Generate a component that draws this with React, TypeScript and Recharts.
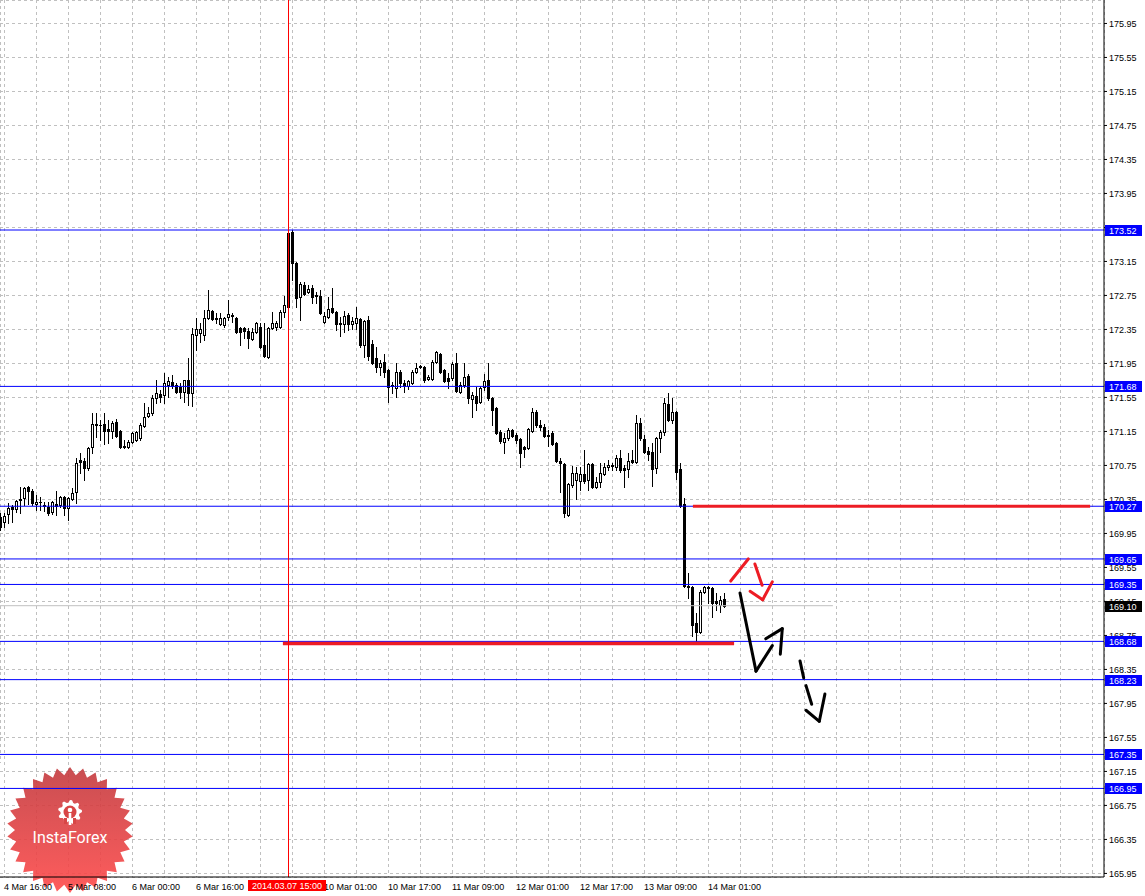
import React from "react";
import {
  ComposedChart,
  Bar,
  XAxis,
  YAxis,
  CartesianGrid,
  ReferenceLine,
  Customized,
} from "recharts";

// ---- H1 candles (bar index 0 = 4 Mar 15:00) ----
const opens = [
  170.14, 170.08, 170.18, 170.26, 170.24, 170.36, 170.37, 170.5, 170.45, 170.3,
  170.32, 170.28, 170.26, 170.2, 170.3, 170.28, 170.38, 170.25, 170.36, 170.44,
  170.81, 170.8, 170.72, 170.97, 171.24, 171.22, 171.24, 171.18, 171.16, 171.26,
  171.16, 170.97, 170.97, 171.03, 171.05, 171.07, 171.21, 171.33, 171.37, 171.54,
  171.59, 171.58, 171.7, 171.73, 171.7, 171.67, 171.61, 171.76, 171.6, 172.28,
  172.31, 172.28, 172.48, 172.57, 172.48, 172.41, 172.4, 172.5, 172.52, 172.48,
  172.37, 172.37, 172.33, 172.24, 172.32, 172.38, 172.17, 172.03, 172.37, 172.38,
  172.38, 172.56, 172.61, 173.5, 173.13, 172.73, 172.87, 172.79, 172.84, 172.75,
  172.74, 172.44, 172.5, 172.6, 172.56, 172.41, 172.41, 172.52, 172.41, 172.43,
  172.47, 172.17, 172.46, 172.18, 172.01, 171.91, 171.97, 171.87, 171.68, 171.66,
  171.85, 171.72, 171.68, 171.72, 171.85, 171.92, 171.91, 171.77, 171.77, 171.97,
  172.06, 171.87, 171.78, 171.78, 171.95, 171.61, 171.7, 171.8, 171.53, 171.57,
  171.5, 171.67, 171.76, 171.54, 171.43, 171.14, 171.03, 171.07, 171.17, 171.11,
  171.06, 170.97, 170.96, 171.16, 171.38, 171.23, 171.2, 171.11, 171.13, 171.01,
  170.8, 170.77, 170.17, 170.52, 170.58, 170.57, 170.65, 170.58, 170.77, 170.5,
  170.56, 170.65, 170.73, 170.75, 170.73, 170.84, 170.72, 170.71, 170.81, 170.79,
  171.25, 171.06, 170.92, 170.91, 170.72, 171.07, 171.14, 171.47, 171.28, 171.38,
  170.71, 170.3, 169.33, 169.32, 168.9, 168.79, 169.26, 169.32, 169.31, 169.15,
  169.11, 169.18,
];
const highs = [
  170.19, 170.19, 170.31, 170.28, 170.34, 170.5, 170.5, 170.51, 170.47, 170.4,
  170.38, 170.32, 170.32, 170.33, 170.45, 170.39, 170.39, 170.38, 170.48, 170.84,
  170.9, 170.84, 170.97, 171.37, 171.37, 171.28, 171.37, 171.28, 171.27, 171.3,
  171.17, 171.05, 171.05, 171.14, 171.16, 171.25, 171.48, 171.44, 171.58, 171.76,
  171.64, 171.84, 171.79, 171.81, 171.72, 171.72, 171.76, 172.01, 172.37, 172.48,
  172.43, 172.58, 172.81, 172.58, 172.54, 172.54, 172.5, 172.7, 172.54, 172.5,
  172.38, 172.38, 172.37, 172.37, 172.44, 172.43, 172.43, 172.38, 172.56, 172.45,
  172.58, 172.74, 173.51, 173.52, 173.14, 172.91, 172.91, 172.87, 172.87, 172.79,
  172.81, 172.56, 172.73, 172.84, 172.57, 172.5, 172.57, 172.54, 172.5, 172.61,
  172.48, 172.46, 172.51, 172.23, 172.14, 171.99, 172.06, 171.88, 171.73, 171.95,
  171.87, 171.76, 171.76, 171.87, 171.95, 171.93, 171.92, 171.81, 171.99, 172.1,
  172.07, 171.88, 171.84, 171.97, 172.07, 171.73, 171.95, 171.83, 171.61, 171.67,
  171.68, 171.83, 171.95, 171.56, 171.44, 171.17, 171.13, 171.19, 171.18, 171.13,
  171.07, 170.98, 171.19, 171.43, 171.4, 171.28, 171.24, 171.17, 171.16, 171.02,
  170.84, 170.78, 170.54, 170.74, 170.73, 170.73, 170.93, 170.78, 170.78, 170.61,
  170.78, 170.78, 170.81, 170.78, 170.87, 170.93, 170.76, 170.9, 170.93, 171.34,
  171.31, 171.11, 170.97, 171.01, 171.08, 171.17, 171.54, 171.6, 171.54, 171.39,
  170.78, 170.37, 169.48, 169.33, 169.01, 169.28, 169.33, 169.33, 169.32, 169.25,
  169.21, 169.25,
];
const lows = [
  169.99, 170.03, 170.07, 170.08, 170.2, 170.19, 170.28, 170.3, 170.28, 170.23,
  170.23, 170.21, 170.17, 170.18, 170.17, 170.26, 170.17, 170.11, 170.34, 170.31,
  170.66, 170.58, 170.7, 170.9, 171.08, 171.05, 171.0, 171.01, 171.07, 171.08,
  170.96, 170.96, 170.96, 171.01, 171.04, 171.05, 171.2, 171.32, 171.34, 171.48,
  171.5, 171.48, 171.56, 171.66, 171.6, 171.54, 171.5, 171.46, 171.45, 172.11,
  172.2, 172.23, 172.47, 172.46, 172.43, 172.4, 172.38, 172.46, 172.44, 172.31,
  172.17, 172.25, 172.13, 172.23, 172.31, 172.13, 172.03, 172.01, 172.36, 172.34,
  172.37, 172.5, 172.58, 172.93, 172.61, 172.46, 172.76, 172.78, 172.66, 172.66,
  172.53, 172.43, 172.48, 172.54, 172.34, 172.27, 172.32, 172.34, 172.36, 172.36,
  172.14, 172.03, 171.99, 171.94, 171.85, 171.81, 171.79, 171.5, 171.6, 171.56,
  171.67, 171.61, 171.65, 171.71, 171.84, 171.9, 171.73, 171.76, 171.76, 171.95,
  171.84, 171.73, 171.66, 171.76, 171.61, 171.6, 171.67, 171.48, 171.32, 171.4,
  171.48, 171.64, 171.52, 171.23, 171.12, 171.01, 170.9, 171.05, 171.08, 171.01,
  170.73, 170.85, 170.94, 171.14, 171.2, 171.17, 171.08, 170.98, 170.99, 170.79,
  170.44, 170.14, 170.16, 170.5, 170.36, 170.46, 170.54, 170.46, 170.48, 170.48,
  170.5, 170.64, 170.7, 170.7, 170.7, 170.67, 170.5, 170.61, 170.78, 170.78,
  171.05, 170.9, 170.81, 170.51, 170.66, 170.91, 171.11, 171.27, 171.25, 170.59,
  170.26, 169.32, 169.19, 168.74, 168.68, 168.78, 169.25, 169.13, 168.97, 169.05,
  169.03, 169.08,
];
const closes = [
  170.03, 170.16, 170.25, 170.24, 170.33, 170.34, 170.48, 170.45, 170.31, 170.32,
  170.32, 170.27, 170.19, 170.32, 170.27, 170.38, 170.25, 170.37, 170.43, 170.78,
  170.79, 170.72, 170.96, 171.24, 171.22, 171.23, 171.16, 171.16, 171.25, 171.1,
  170.97, 170.98, 171.03, 171.13, 171.14, 171.23, 171.32, 171.37, 171.54, 171.6,
  171.56, 171.72, 171.74, 171.68, 171.61, 171.61, 171.76, 171.6, 172.3, 172.36,
  172.36, 172.48, 172.58, 172.47, 172.47, 172.48, 172.48, 172.53, 172.51, 172.32,
  172.32, 172.33, 172.25, 172.32, 172.43, 172.14, 172.04, 172.37, 172.43, 172.43,
  172.56, 172.64, 173.48, 173.13, 172.72, 172.89, 172.77, 172.83, 172.73, 172.74,
  172.54, 172.51, 172.59, 172.56, 172.41, 172.42, 172.51, 172.41, 172.45, 172.48,
  172.17, 172.45, 172.04, 171.95, 171.91, 171.95, 171.85, 171.67, 171.7, 171.85,
  171.72, 171.68, 171.74, 171.85, 171.9, 171.91, 171.76, 171.79, 171.97, 172.08,
  171.85, 171.74, 171.74, 171.94, 171.63, 171.7, 171.79, 171.54, 171.58, 171.48,
  171.66, 171.74, 171.54, 171.4, 171.13, 171.04, 171.07, 171.17, 171.1, 171.05,
  170.9, 170.94, 171.18, 171.38, 171.23, 171.2, 171.1, 171.1, 171.0, 170.8,
  170.78, 170.19, 170.53, 170.66, 170.66, 170.65, 170.57, 170.77, 170.5, 170.56,
  170.66, 170.73, 170.76, 170.74, 170.84, 170.7, 170.7, 170.8, 170.79, 171.25,
  171.07, 170.91, 170.88, 170.71, 171.07, 171.14, 171.48, 171.28, 171.38, 170.67,
  170.27, 169.33, 169.32, 168.87, 168.79, 169.26, 169.32, 169.31, 169.13, 169.13,
  169.17, 169.1,
];

// ---- axis ticks / labels ----
const xLabelBars = [1, 17, 33, 49, 81, 97, 113, 129, 145, 161, 177];
const xLabels = [
  "4 Mar 16:00", "5 Mar 08:00", "6 Mar 00:00", "6 Mar 16:00",
  "10 Mar 01:00", "10 Mar 17:00", "11 Mar 09:00", "12 Mar 01:00",
  "12 Mar 17:00", "13 Mar 09:00", "14 Mar 01:00",
];
const xGridBars = [
  1, 9, 17, 25, 33, 41, 49, 57, 65, 73, 81, 89, 97, 105, 113, 121, 129, 137,
  145, 153, 161, 169, 177, 185, 193, 201, 209, 217, 225, 233, 241, 249, 257,
  265, 273,
];
const yTicks = [
  175.95, 175.55, 175.15, 174.75, 174.35, 173.95, 173.55, 173.15, 172.75,
  172.35, 171.95, 171.55, 171.15, 170.75, 170.35, 169.95, 169.55, 169.15,
  168.75, 168.35, 167.95, 167.55, 167.15, 166.75, 166.35, 165.95,
];
// tick labels fully covered by a price tag in the reference
const hiddenYTickLabels = [173.55];

// ---- annotations (data units: bar index, price) ----
const levelLines = [173.52, 171.68, 170.27, 169.65, 169.35, 168.68, 168.23, 167.35, 166.95];
const bidPrice = 169.1;
const bidLineEnd = 208.1;
const markerBar = 72;
const markerLabel = "2014.03.07 15:00";
const upperRedLevel = { price: 170.27, from: 173.1, to: 272.4 };
const lowerRedLevel = { price: 168.655, from: 70.6, to: 183.4 };
const redArrow = [
  [[182.55, 169.39], [186.95, 169.65]],
  [[188.6, 169.59], [190.4, 169.34]],
  [[187.4, 169.27], [190.55, 169.17]],
  [[190.55, 169.17], [192.95, 169.38]],
];
const blackArrow = [
  [[184.875, 169.25], [188.875, 168.33]],
  [[188.875, 168.33], [192.95, 168.63]],
  [[191.3, 168.71], [195.45, 168.83]],
  [[195.45, 168.83], [194.95, 168.53]],
  [[199.875, 168.45], [200.8, 168.25]],
  [[201.375, 168.16], [202.8, 167.94]],
  [[201.375, 167.87], [204.7, 167.74]],
  [[204.7, 167.74], [206.1, 168.06]],
];

const candles = opens.map((o, i) => ({
  bar: i,
  open: o,
  high: highs[i],
  low: lows[i],
  close: closes[i],
}));

const Y_MIN = 165.908;
const Y_MAX = 176.226;
const X_MIN = -0.125;
const X_MAX = 275.875;
const FONT = "'Liberation Sans', Arial, sans-serif";

const Candle = (props: any) => {
  const { x, y, width, height } = props;
  const d = props.payload ?? props;
  if (x == null || y == null || d == null) return null;
  const { open, close, high, low } = d;
  const t = Math.min(y, y + height);
  const b = Math.max(y, y + height);
  const k = (b - t) / (high - low || 1);
  const py = (v: number) => Math.round(t + (high - v) * k);
  const cx = Math.floor(x + width / 2) + 0.5;
  const hi = py(high);
  const lo = py(low);
  const bt = py(Math.max(open, close));
  const bb = py(Math.min(open, close));
  const up = close >= open;
  return (
    <g>
      <line x1={cx} x2={cx} y1={hi} y2={lo + 1} stroke="#000" strokeWidth={1} />
      {up ? (
        bb > bt ? (
          <rect x={cx - 1} y={bt + 0.5} width={2} height={bb - bt} fill="#fff" stroke="#000" strokeWidth={1} />
        ) : (
          <line x1={cx - 1.5} x2={cx + 1.5} y1={bt + 0.5} y2={bt + 0.5} stroke="#000" strokeWidth={1} />
        )
      ) : (
        <rect x={cx - 1.5} y={bt} width={3} height={bb - bt + 1} fill="#000" />
      )}
    </g>
  );
};

const PriceTag = (props: any) => {
  const { viewBox, text, bg } = props;
  if (!viewBox) return null;
  const left = 1105;
  const cy = Math.round(viewBox.y);
  return (
    <g>
      <rect x={left} y={cy - 5} width={37} height={11} fill={bg} />
      <text x={left + 4} y={cy + 4} fill="#fff" fontSize={9} fontFamily={FONT}>
        {text}
      </text>
    </g>
  );
};

const TimeTag = (props: any) => {
  const { viewBox, text } = props;
  if (!viewBox) return null;
  const lx = Math.round(viewBox.x);
  const bottom = viewBox.y + viewBox.height;
  return (
    <g>
      <rect x={lx - 41} y={bottom + 3} width={78} height={11} fill="#ff0000" />
      <text x={lx - 37} y={bottom + 12} fill="#fff" fontSize={9} fontFamily={FONT}>
        {text}
      </text>
    </g>
  );
};

const XTick = (props: any) => {
  const { x, payload } = props;
  const idx = xLabelBars.indexOf(payload.value);
  if (idx < 0) return null;
  return (
    <text x={x - 0.5} y={890} fontSize={9} fontFamily={FONT} fill="#000" textAnchor="start">
      {xLabels[idx]}
    </text>
  );
};

const YTick = (props: any) => {
  const { x, y, payload } = props;
  if (hiddenYTickLabels.includes(payload.value)) return null;
  return (
    <text x={x} y={y} dy="0.355em" fontSize={9} fontFamily={FONT} fill="#000" textAnchor="start">
      {Number(payload.value).toFixed(2)}
    </text>
  );
};

const Logo = () => {
  const cx = 70;
  const cy = 830;
  const pts: string[] = [];
  const n = 30;
  for (let k = 0; k < 2 * n; k++) {
    const a = (Math.PI * k) / n - Math.PI / 2;
    const r = k % 2 === 0 ? 63 : 55;
    pts.push(`${(cx + r * Math.cos(a)).toFixed(2)},${(cy + r * Math.sin(a)).toFixed(2)}`);
  }
  const gx = 70;
  const gy = 812;
  const gear: string[] = [];
  const teeth = 9;
  for (let k = 0; k < teeth * 4; k++) {
    const a = (2 * Math.PI * k) / (teeth * 4) - Math.PI / 2;
    const r = k % 4 < 2 ? 12 : 9.5;
    gear.push(`${(gx + r * Math.cos(a)).toFixed(2)},${(gy + r * Math.sin(a)).toFixed(2)}`);
  }
  return (
    <g>
      <defs>
        <linearGradient id="logoGrad" x1="0" y1="0" x2="0" y2="1">
          <stop offset="0%" stopColor="#c23a3e" />
          <stop offset="100%" stopColor="#ff4a4a" />
        </linearGradient>
      </defs>
      <polygon points={pts.join(" ")} fill="url(#logoGrad)" opacity={0.9} />
      <polygon points={gear.join(" ")} fill="#fff" />
      <circle cx={gx} cy={gy} r={6.5} fill="#d84646" />
      <circle cx={gx} cy={gy - 2} r={2.3} fill="#fff" />
      <rect x={gx - 1.3} y={gy + 1} width={2.6} height={12} fill="#fff" />
      <rect x={gx - 6} y={gy + 6} width={3} height={6} fill="#d84646" />
      <rect x={gx + 3} y={gy + 6} width={3} height={6} fill="#d84646" />
      <text x={cx} y={843} textAnchor="middle" fontFamily="Roboto, 'Open Sans', sans-serif" fontSize={16} fill="#fff">
        InstaForex
      </text>
    </g>
  );
};

export default function App() {
  return (
    <div style={{ position: "absolute", left: 0, top: 0, width: 1145, height: 896, background: "#fff" }}>
      <ComposedChart
        width={1145}
        height={896}
        data={candles}
        margin={{ top: 0, right: 0, bottom: 0, left: 0 }}
      >
        <CartesianGrid stroke="#c0c0c0" strokeDasharray="3 3" shapeRendering="crispEdges" />
        <XAxis
          dataKey="bar"
          type="number"
          domain={[X_MIN, X_MAX]}
          allowDataOverflow
          ticks={xGridBars}
          interval={0}
          height={19}
          tickLine={false}
          tickSize={0}
          axisLine={{ stroke: "#000" }}
          tick={<XTick />}
        />
        <YAxis
          orientation="right"
          type="number"
          domain={[Y_MIN, Y_MAX]}
          allowDataOverflow
          ticks={yTicks}
          interval={0}
          width={41}
          tickSize={3}
          tickMargin={2}
          tickLine={{ stroke: "#000" }}
          axisLine={{ stroke: "#000" }}
          tick={<YTick />}
        />
        <Bar
          dataKey={(d: any) => [d.low, d.high]}
          barSize={3}
          isAnimationActive={false}
          shape={(p: any) => <Candle {...p} />}
        />
        <ReferenceLine
          segment={[
            { x: X_MIN, y: bidPrice },
            { x: bidLineEnd, y: bidPrice },
          ]}
          stroke="#c0c0c0"
          strokeWidth={1}
        />
        {levelLines.map((lv) => (
          <ReferenceLine key={lv} y={lv} stroke="#0000ff" strokeWidth={1} />
        ))}
        <ReferenceLine
          segment={[
            { x: upperRedLevel.from, y: upperRedLevel.price },
            { x: upperRedLevel.to, y: upperRedLevel.price },
          ]}
          stroke="#ed1c24"
          strokeWidth={3}
        />
        <ReferenceLine
          segment={[
            { x: lowerRedLevel.from, y: lowerRedLevel.price },
            { x: lowerRedLevel.to, y: lowerRedLevel.price },
          ]}
          stroke="#ed1c24"
          strokeWidth={3.5}
        />
        <ReferenceLine x={markerBar} stroke="#ff0000" strokeWidth={1} />
        {redArrow.map((s, i) => (
          <ReferenceLine
            key={"r" + i}
            segment={[{ x: s[0][0], y: s[0][1] }, { x: s[1][0], y: s[1][1] }]}
            stroke="#ed1c24"
            strokeWidth={3}
            strokeLinecap="round"
          />
        ))}
        {blackArrow.map((s, i) => (
          <ReferenceLine
            key={"b" + i}
            segment={[{ x: s[0][0], y: s[0][1] }, { x: s[1][0], y: s[1][1] }]}
            stroke="#000"
            strokeWidth={3}
            strokeLinecap="round"
          />
        ))}
        <Customized component={Logo} />
      </ComposedChart>

      {/* overlay chart: price / time tags drawn above the axis labels */}
      <div style={{ position: "absolute", left: 0, top: 0, pointerEvents: "none" }}>
        <ComposedChart
          width={1145}
          height={896}
          data={candles}
          margin={{ top: 0, right: 41, bottom: 19, left: 0 }}
        >
          <XAxis dataKey="bar" type="number" domain={[X_MIN, X_MAX]} allowDataOverflow hide />
          <YAxis type="number" domain={[Y_MIN, Y_MAX]} allowDataOverflow hide />
          <ReferenceLine
            y={bidPrice}
            stroke="none"
            label={<PriceTag text={bidPrice.toFixed(2)} bg="#000" />}
          />
          {levelLines.map((lv) => (
            <ReferenceLine
              key={"t" + lv}
              y={lv}
              stroke="none"
              label={<PriceTag text={lv.toFixed(2)} bg="#0000ff" />}
            />
          ))}
          <ReferenceLine
            x={markerBar}
            stroke="none"
            label={<TimeTag text={markerLabel} />}
          />
        </ComposedChart>
      </div>
    </div>
  );
}
